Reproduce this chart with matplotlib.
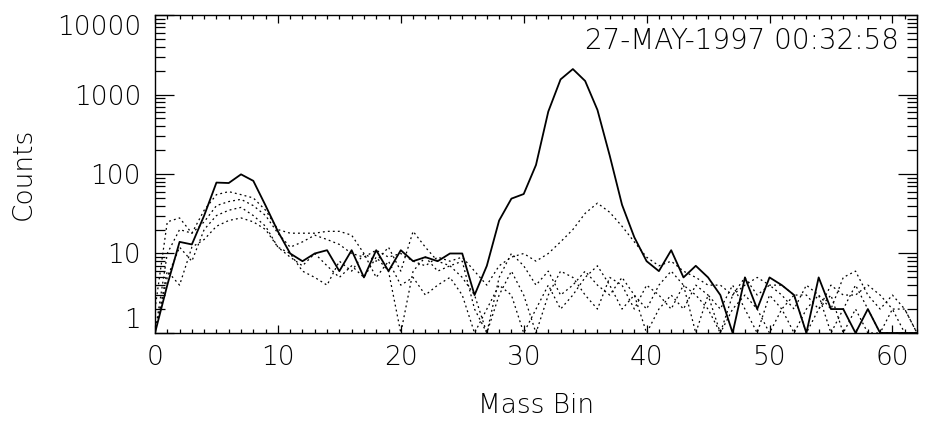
import matplotlib.pyplot as plt
import numpy as np
from matplotlib.ticker import LogLocator, MultipleLocator, FixedLocator, FixedFormatter

mass_bin = np.arange(63)

# main spectrum (solid)
counts_main = [1, 4, 14, 13, 30, 78, 77, 99, 82, 40, 19, 10, 8, 10, 11, 6, 11, 5, 11, 6,
               11, 8, 9, 8, 10, 10, 3, 7, 26, 49, 56, 130, 610, 1550, 2090, 1480, 640, 170, 41, 16,
               8, 6, 11, 5, 7, 5, 3, 1, 5, 2, 5, 4, 3, 1, 5, 2, 2, 1, 2, 1,
               1, 1, 1]

# other spectra (dotted)
counts_d1 = [1, 10, 20, 18, 35, 55, 60, 55, 50, 35, 20, 18, 18, 18, 19, 19, 17, 10, 8, 12,
             6, 19, 12, 8, 7, 5, 3, 1, 5, 10, 7, 4, 6, 3, 4, 6, 4, 3, 5, 3,
             2, 4, 6, 4, 3, 2, 1, 3, 5, 3, 4, 3, 2, 4, 3, 2, 5, 6, 3, 2,
             3, 2, 1]
counts_d2 = [2, 25, 28, 18, 25, 40, 45, 48, 40, 30, 18, 12, 14, 17, 15, 13, 10, 9, 11, 9,
             10, 8, 7, 9, 8, 9, 6, 4, 7, 9, 10, 8, 10, 14, 20, 32, 43, 33, 22, 14,
             9, 7, 8, 6, 5, 4, 4, 3, 4, 5, 4, 4, 3, 3, 2, 4, 3, 3, 4, 3,
             2, 2, 1]
counts_d3 = [1, 5, 12, 8, 20, 30, 35, 38, 30, 22, 12, 9, 7, 10, 7, 5, 7, 5, 9, 6,
             1, 6, 9, 6, 7, 8, 2, 1, 3, 6, 3, 1, 3, 6, 5, 3, 2, 5, 4, 2,
             4, 3, 2, 4, 1, 3, 2, 4, 2, 1, 3, 2, 1, 2, 3, 1, 2, 4, 2, 1,
             2, 1, 1]
counts_d4 = [1, 6, 4, 12, 15, 22, 26, 28, 25, 20, 12, 10, 6, 5, 4, 8, 6, 10, 5, 8,
             4, 5, 3, 4, 5, 3, 1, 2, 4, 3, 1, 2, 4, 2, 3, 5, 7, 4, 2, 3,
             1, 2, 3, 2, 4, 3, 1, 2, 3, 2, 1, 2, 3, 1, 2, 3, 1, 2, 1, 1,
             1, 1, 1]

ytick_vals = [1, 10, 100, 1000, 10000]
ytick_labels = ['1', '10', '100', '1000', '10000']
timestamp = '27-MAY-1997 00:32:58'

plt.rcParams['font.family'] = ['DejaVu Sans']
plt.rcParams['font.weight'] = 'light'
plt.rcParams['axes.labelweight'] = 'light'
fs = 19

fig = plt.figure(figsize=(9.32, 4.23), dpi=100)
ax = fig.add_axes([0.1663, 0.2128, 0.8176, 0.7517])

for d in [counts_d1, counts_d2, counts_d3, counts_d4]:
    ax.plot(mass_bin, d, color='black', lw=0.9, linestyle=(0, (1.5, 2.5)))
ax.plot(mass_bin, counts_main, color='black', lw=1.3)

ax.set_yscale('log')
ax.set_xlim(0, 62)
ax.set_ylim(1, 10000)

ax.xaxis.set_major_locator(MultipleLocator(10))
ax.xaxis.set_minor_locator(MultipleLocator(1))
ax.yaxis.set_major_locator(FixedLocator(ytick_vals))
ax.yaxis.set_major_formatter(FixedFormatter(ytick_labels))
ax.yaxis.set_minor_locator(LogLocator(base=10, subs=np.arange(2, 10)))
ax.yaxis.set_minor_formatter(FixedFormatter([]))

ax.tick_params(axis='both', which='both', direction='in', top=True, right=True,
               width=0.9, labelsize=fs, color='black')
ax.tick_params(axis='x', which='major', length=5.5, pad=9)
ax.tick_params(axis='x', which='minor', length=2.8)
ax.tick_params(axis='y', which='major', length=14, pad=10)
ax.tick_params(axis='y', which='minor', length=7)
for s in ax.spines.values():
    s.set_linewidth(1.0)

# keep end labels inside the axis range, as the original does
ylabels = ax.get_yticklabels()
ylabels[0].set_va('bottom')
ylabels[-1].set_va('top')

ax.set_xlabel('Mass Bin', fontsize=fs, fontweight='light', labelpad=16)
ax.set_ylabel('Counts', fontsize=fs, fontweight='light', labelpad=15)
ax.text(0.976, 0.918, timestamp, transform=ax.transAxes, ha='right', va='center',
        fontsize=fs + 1)

fig.savefig('out.png', dpi=100)
